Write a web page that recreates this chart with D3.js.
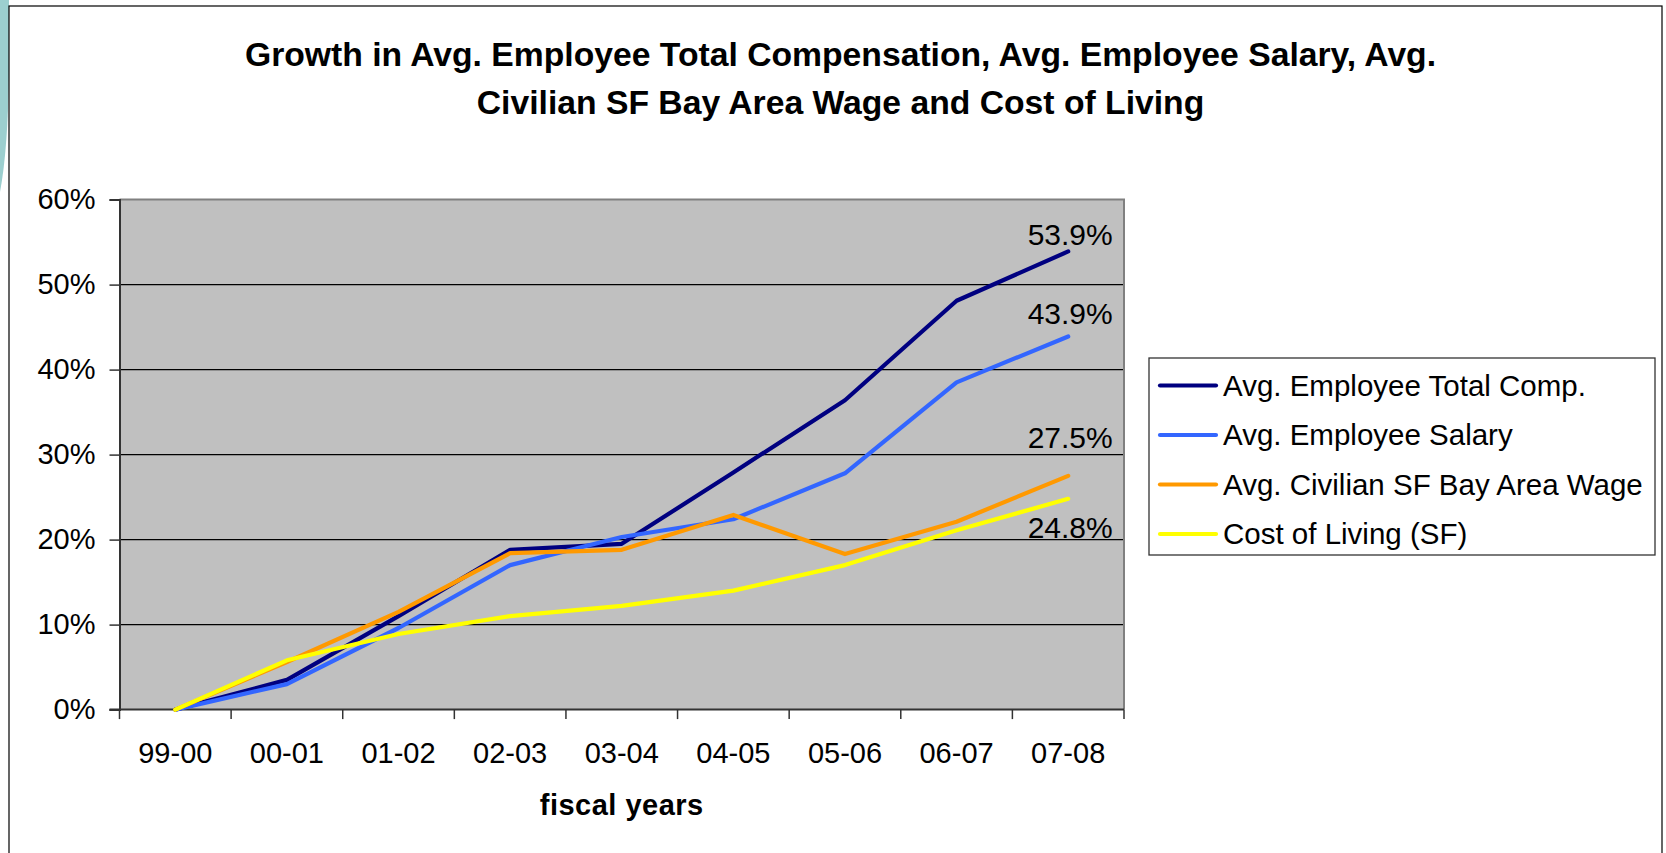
<!DOCTYPE html>
<html>
<head>
<meta charset="utf-8">
<script src="https://cdn.jsdelivr.net/npm/d3@7"></script>
<style>
  html, body { margin: 0; padding: 0; background: #fff; }
  svg { display: block; }
  text { font-family: "Liberation Sans", Arial, sans-serif; fill: #000; }
</style>
</head>
<body>
<svg id="chart" width="1666" height="853"></svg>
<script>
// ---------------- DATA ----------------
const categories = ["99-00", "00-01", "01-02", "02-03", "03-04", "04-05", "05-06", "06-07", "07-08"];
const totalComp    = [0, 3.5, 11.0, 18.8, 19.5, 27.9, 36.4, 48.1, 53.9];
const salary       = [0, 3.0, 9.6, 17.0, 20.3, 22.4, 27.8, 38.5, 43.9];
const bayAreaWage  = [0, 5.6, 11.5, 18.4, 18.8, 22.9, 18.3, 22.1, 27.5];
const costOfLiving = [0, 5.8, 8.9, 11.0, 12.2, 14.0, 17.0, 21.1, 24.8];
const seriesNames  = ["Avg. Employee Total Comp.", "Avg. Employee Salary", "Avg. Civilian SF Bay Area Wage", "Cost of Living (SF)"];
const yTicks = [0, 10, 20, 30, 40, 50, 60];
const titleLines = ["Growth in Avg. Employee Total Compensation, Avg. Employee Salary, Avg.", "Civilian SF Bay Area Wage and Cost of Living"];
const xTitle = "fiscal years";

// ---------------- STYLE / LAYOUT ----------------
const colors = ["#000080", "#3366ff", "#ff9900", "#ffff00"];
const labelDy = [-6, -12, -28, 39]; // end-label baseline offsets from last point
const seriesValues = [totalComp, salary, bayAreaWage, costOfLiving];
const series = seriesNames.map((name, i) => ({ name, values: seriesValues[i], color: colors[i], dy: labelDy[i] }));

const plot = { left: 119.5, right: 1124, top: 199.6, bottom: 709.6 };
const svg = d3.select("#chart");

// decoration: teal arc at left and frame
svg.append("path")
  .attr("d", "M0,0 L9,0 L9,70 Q8,150 0,192 Z")
  .attr("fill", "#9ccfcf");
svg.append("rect")
  .attr("x", 9).attr("y", 6).attr("width", 1653).attr("height", 900)
  .attr("fill", "none").attr("stroke", "#000").attr("stroke-width", 1.2);

// scales
const x = d3.scaleBand().domain(categories).range([plot.left, plot.right]).padding(0);
const y = d3.scaleLinear().domain([0, 60]).range([plot.bottom, plot.top]);
const cx = c => x(c) + x.bandwidth() / 2;

// plot area
svg.append("rect")
  .attr("x", plot.left).attr("y", plot.top)
  .attr("width", plot.right - plot.left).attr("height", plot.bottom - plot.top)
  .attr("fill", "#c0c0c0");

// gridlines
svg.append("g").selectAll("line").data(yTicks.filter(t => t > 0 && t < 60)).join("line")
  .attr("x1", plot.left).attr("x2", plot.right)
  .attr("y1", d => y(d)).attr("y2", d => y(d))
  .attr("stroke", "#000").attr("stroke-width", 1.1);

// plot border (top/right gray)
svg.append("path")
  .attr("d", `M${plot.left},${plot.top} H${plot.right} V${plot.bottom}`)
  .attr("fill", "none").attr("stroke", "#808080").attr("stroke-width", 2);

// y axis
const yAxis = d3.axisLeft(y).tickValues(yTicks).tickFormat(d => d + "%").tickSize(10).tickPadding(14);
const gy = svg.append("g").attr("transform", `translate(${plot.left},0)`).call(yAxis);
gy.select(".domain").attr("stroke", "#333").attr("stroke-width", 2);
gy.selectAll(".tick line").attr("stroke", "#333").attr("stroke-width", 1.5);
gy.selectAll(".tick text").style("font-size", "29px").style("font-family", "'Liberation Sans', Arial, sans-serif").attr("fill", "#000");

// x axis: boundary ticks + centered labels
const boundaries = categories.map(c => x(c)).concat([plot.right]);
svg.append("line")
  .attr("x1", plot.left - 10).attr("x2", plot.right)
  .attr("y1", plot.bottom).attr("y2", plot.bottom)
  .attr("stroke", "#333").attr("stroke-width", 2);
svg.append("g").selectAll("line").data(boundaries).join("line")
  .attr("x1", d => d).attr("x2", d => d)
  .attr("y1", plot.bottom).attr("y2", plot.bottom + 9.5)
  .attr("stroke", "#333").attr("stroke-width", 1.5);
svg.append("g").selectAll("text").data(categories).join("text")
  .attr("x", d => cx(d)).attr("y", 762.5)
  .attr("text-anchor", "middle")
  .style("font-size", "29px")
  .text(d => d);

// lines
const line = d3.line().x((d, i) => cx(categories[i])).y(d => y(d));
svg.append("g").selectAll("path").data(series).join("path")
  .attr("d", d => line(d.values))
  .attr("fill", "none")
  .attr("stroke", d => d.color)
  .attr("stroke-width", 4.2)
  .attr("stroke-linejoin", "round")
  .attr("stroke-linecap", "round");

// end labels
svg.append("g").selectAll("text").data(series).join("text")
  .attr("x", cx(categories[categories.length - 1]) + 2)
  .attr("y", d => y(d.values[d.values.length - 1]) + d.dy)
  .attr("text-anchor", "middle")
  .style("font-size", "30px")
  .text(d => d.values[d.values.length - 1].toFixed(1) + "%");

// title
svg.append("g").selectAll("text").data(titleLines).join("text")
  .attr("x", 840.5).attr("y", (d, i) => 66 + i * 48)
  .attr("text-anchor", "middle")
  .style("font-size", "33.7px").style("font-weight", "bold")
  .text(d => d);

// x title
svg.append("text")
  .attr("x", (plot.left + plot.right) / 2).attr("y", 815)
  .attr("text-anchor", "middle")
  .style("font-size", "29px").style("font-weight", "bold")
  .style("letter-spacing", "0.5px")
  .text(xTitle);

// legend
const legend = { x: 1149, y: 358, w: 506, h: 197, row0: 385.5, rowH: 49.5 };
svg.append("rect")
  .attr("x", legend.x).attr("y", legend.y).attr("width", legend.w).attr("height", legend.h)
  .attr("fill", "#fff").attr("stroke", "#333").attr("stroke-width", 1.3);
const lg = svg.append("g").selectAll("g").data(series).join("g")
  .attr("transform", (d, i) => `translate(0,${legend.row0 + i * legend.rowH})`);
lg.append("line")
  .attr("x1", 1160).attr("x2", 1216).attr("y1", 0).attr("y2", 0)
  .attr("stroke", d => d.color).attr("stroke-width", 4.2).attr("stroke-linecap", "round");
lg.append("text")
  .attr("x", 1223).attr("y", 0).attr("dy", "0.35em")
  .style("font-size", "29.5px")
  .text(d => d.name);
</script>
</body>
</html>
